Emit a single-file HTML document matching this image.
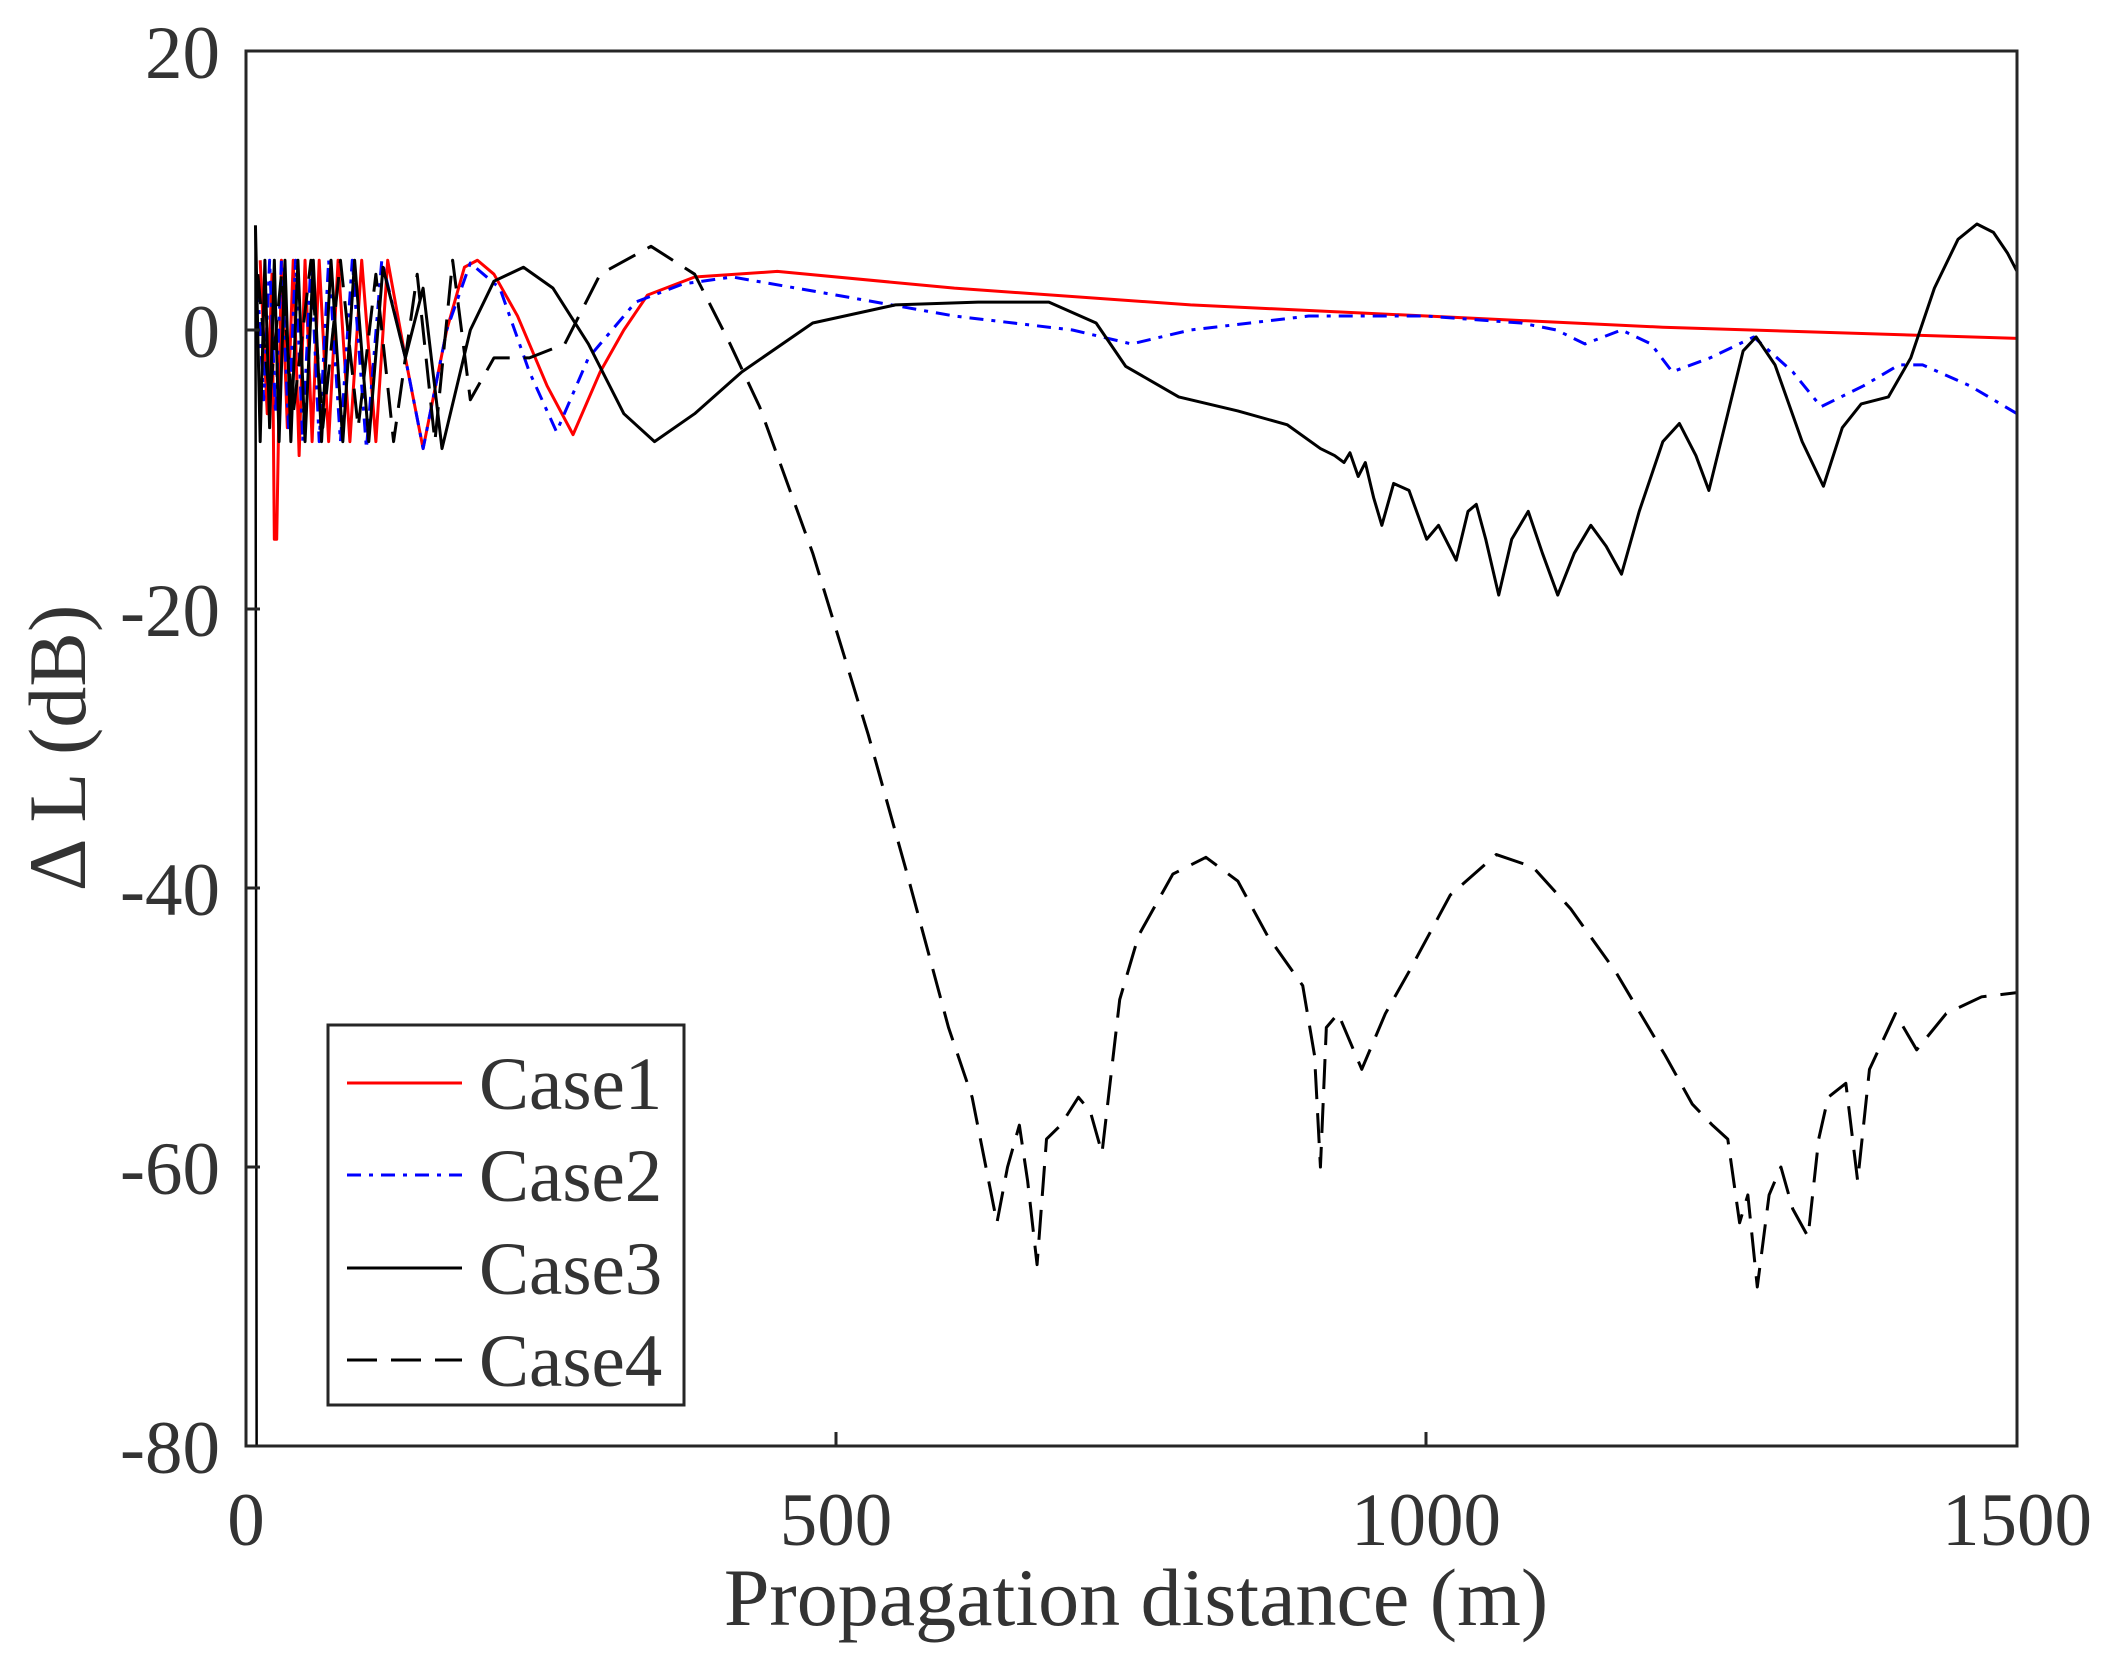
<!DOCTYPE html>
<html><head><meta charset="utf-8"><style>
html,body{margin:0;padding:0;background:#fff;}
svg{display:block;font-family:"Liberation Serif",serif;}
text{font-family:"Liberation Serif","Times New Roman",serif;}
</style></head><body>
<svg width="2122" height="1659" viewBox="0 0 2122 1659" xmlns="http://www.w3.org/2000/svg">
<rect width="2122" height="1659" fill="#fff"/>
<defs><clipPath id="c"><rect x="246" y="51" width="1771" height="1395"/></clipPath></defs>
<g clip-path="url(#c)">
<g transform="matrix(1.1807 0 0 -13.95 246 330)" fill="none" stroke-linejoin="round">
<polyline vector-effect="non-scaling-stroke" stroke="#000" stroke-width="2.5" points="8,7.5 9,-80 10,-80 11,-80"/>
<polyline vector-effect="non-scaling-stroke" stroke="#f00" stroke-width="3" points="12,5 18,-6 22,4 24,-15 26,-15 30,5 35,-7 40,5 45,-9 50,5 56,-8 62,5 70,-8 78,5 88,-8 98,5 110,-8 120,5 135,-2 150,-8.5 170,0 185,4.5 196,5 210,4 230,1 255,-4 277,-7.5 300,-3 320,0 340,2.5 380,3.8 450,4.2 600,3 800,1.8 1000,1 1200,0.2 1500,-0.6"/>
<polyline vector-effect="non-scaling-stroke" stroke="#00f" stroke-width="3" stroke-dasharray="14 8 4 8" points="10,3 15,-5 20,5 25,-6 30,5 36,-7 42,5 48,-8 55,5 62,-8 70,5 80,-8 90,5 102,-8.5 115,5 135,-2 150,-8.5 170,0 190,4.8 215,3 240,-3 263,-7.3 290,-2 330,2 370,3.3 412,3.8 500,2.5 600,1 700,0 750,-1 800,0 900,1 1000,1 1080,0.5 1110,0 1134,-1 1165,0 1190,-1 1208,-3 1240,-2 1277,-0.5 1310,-3 1334,-5.5 1370,-4 1400,-2.5 1420,-2.5 1460,-4 1500,-6"/>
<polyline vector-effect="non-scaling-stroke" stroke="#000" stroke-width="3" points="8,7.5 12,-8 16,5 20,-7 24,5 28,-8 33,5 38,-8 44,5 50,-8 57,5 64,-8 72,5 82,-8 92,5 104,-8 116,4.5 135,-2 150,3 166,-8.5 190,0 210,3.5 235,4.5 260,3 290,-1 320,-6 346,-8 380,-6 420,-3 480,0.5 550,1.8 620,2 680,2 720,0.5 745,-2.6 790,-4.8 840,-5.8 882,-6.8 910,-8.5 922,-9 930,-9.5 935,-8.8 942,-10.5 948,-9.5 955,-12 962,-14 972,-11 985,-11.5 1000,-15 1010,-14 1025,-16.5 1035,-13 1042,-12.5 1050,-15 1061,-19 1072,-15 1086,-13 1098,-16 1111,-19 1125,-16 1139,-14 1152,-15.5 1165,-17.5 1180,-13 1200,-8 1214,-6.7 1228,-9 1239,-11.5 1255,-6 1268,-1.5 1279,-0.5 1295,-2.5 1318,-8 1336,-11.2 1352,-7 1368,-5.3 1391,-4.8 1410,-2 1430,3 1450,6.5 1466,7.6 1480,7 1492,5.5 1500,4.2"/>
<polyline vector-effect="non-scaling-stroke" stroke="#000" stroke-width="3" stroke-dasharray="30 14" points="10,4 20,-5 30,4 40,-6 55,5 65,-7 80,5 95,-7 110,4 125,-8 145,4 160,-8 175,5 190,-5 210,-2 240,-2 270,-1 300,4 343,6 380,4 410,-1 435,-5.5 480,-16 527,-29 560,-39 595,-50 615,-55 636,-64 645,-60 655,-57 662,-61 670,-67 678,-58 690,-57 705,-55 715,-56 725,-59 740,-48 756,-43.4 785,-39 813,-37.8 840,-39.5 865,-43.4 895,-47 905,-52 910,-60 915,-50 925,-49 940,-52 945,-53 965,-49 985,-46 1020,-40.5 1059,-37.6 1090,-38.5 1122,-41.5 1160,-46 1202,-52 1225,-55.5 1242,-57 1255,-58 1265,-64 1272,-62 1280,-68.6 1290,-62 1300,-60 1310,-63 1323,-65 1332,-58 1340,-55 1355,-54 1365,-61 1375,-53 1397,-49 1415,-51.6 1440,-49 1470,-47.8 1500,-47.5"/>
</g>
</g>
<rect x="246" y="51" width="1771" height="1395" fill="none" stroke="#262626" stroke-width="3"/>
<g stroke="#262626" stroke-width="3">
<line x1="246" y1="330" x2="260" y2="330"/><line x1="246" y1="609" x2="260" y2="609"/><line x1="246" y1="888" x2="260" y2="888"/><line x1="246" y1="1167" x2="260" y2="1167"/>
<line x1="836" y1="1446" x2="836" y2="1432"/><line x1="1426" y1="1446" x2="1426" y2="1432"/>
</g>
<g font-family="Liberation Serif, Times New Roman, serif" font-size="75" fill="#333" text-anchor="end">
<text x="220" y="78">20</text><text x="220" y="357">0</text><text x="220" y="636">-20</text><text x="220" y="915">-40</text><text x="220" y="1194">-60</text><text x="220" y="1473">-80</text>
</g>
<g font-family="Liberation Serif, Times New Roman, serif" font-size="75" fill="#333" text-anchor="middle">
<text x="246" y="1545">0</text><text x="836" y="1545">500</text><text x="1426" y="1545">1000</text><text x="2017" y="1545">1500</text>
</g>
<text font-family="Liberation Serif, Times New Roman, serif" x="1136" y="1625" font-size="82" fill="#333" text-anchor="middle">Propagation distance (m)</text>
<text font-family="Liberation Serif, Times New Roman, serif" transform="translate(85 748) rotate(-90)" font-size="82" fill="#333" text-anchor="middle">Δ L (dB)</text>
<rect x="328" y="1025" width="356" height="380" fill="#fff" stroke="#262626" stroke-width="3"/>
<line x1="347" y1="1083" x2="462" y2="1083" stroke="#f00" stroke-width="3"/>
<line x1="347" y1="1175" x2="462" y2="1175" stroke="#00f" stroke-width="3" stroke-dasharray="14 8 4 8"/>
<line x1="347" y1="1268" x2="462" y2="1268" stroke="#000" stroke-width="3"/>
<line x1="347" y1="1360" x2="462" y2="1360" stroke="#000" stroke-width="3" stroke-dasharray="30 14"/>
<g font-family="Liberation Serif, Times New Roman, serif" font-size="75" fill="#333">
<text x="479" y="1109">Case1</text><text x="479" y="1201">Case2</text><text x="479" y="1294">Case3</text><text x="479" y="1386">Case4</text>
</g>
</svg>
</body></html>
